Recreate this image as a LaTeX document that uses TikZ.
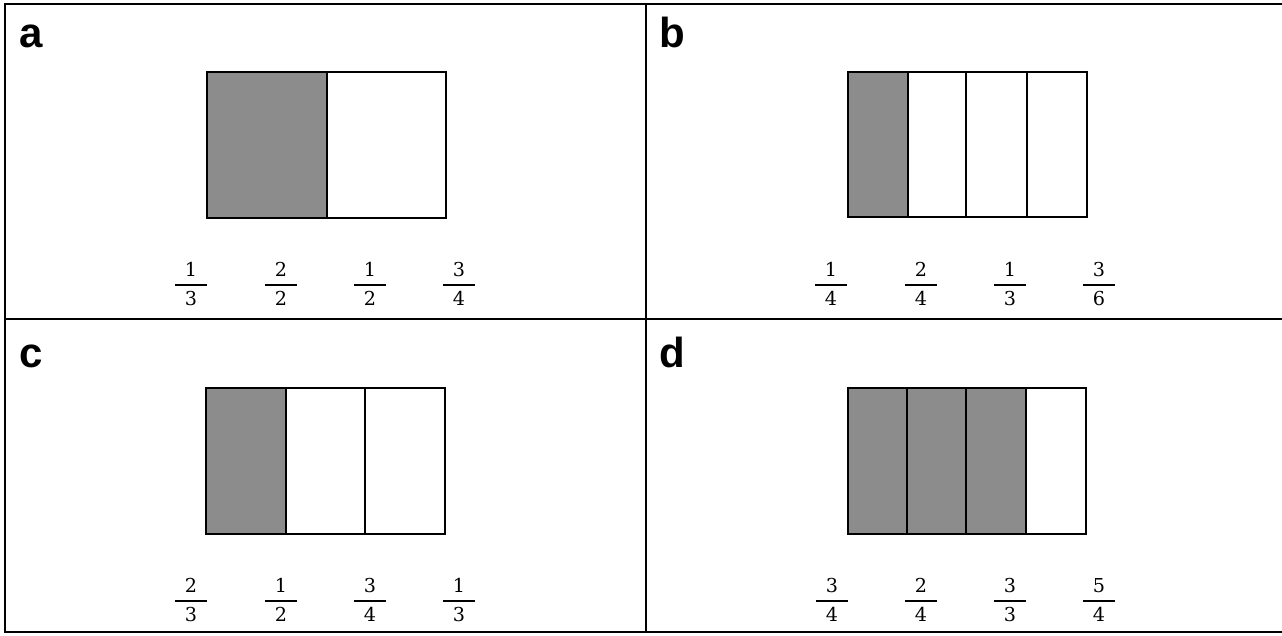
\documentclass[tikz,border=0pt]{standalone}
\usepackage{fontspec}
\usepackage{graphicx}
\newfontfamily\lblfont{Liberation Sans}
\newfontfamily\digfont{DejaVu Serif}
\begin{document}
\begin{tikzpicture}[x=1pt,y=-1pt,
  frame/.style={line width=2.2pt,black},
  box/.style={line width=2pt,black},
  shade/.style={fill=black!45},
  lbl/.style={anchor=base west,inner sep=0pt,font=\lblfont\bfseries\fontsize{42}{46}\selectfont},
  frac/.style={inner sep=0pt}]
\useasboundingbox (0,0) rectangle (1282,635);
\newcommand{\fr}[2]{\scalebox{2}{$\displaystyle{\makebox[16pt]{\digfont\fontsize{9.6}{11}\selectfont #1}\above 0.9pt \hbox{\digfont\fontsize{9.6}{11}\selectfont #2}}$}}
% frame
\coordinate (tl) at (5,4); \coordinate (tr) at (1282,4);
\coordinate (bl) at (5,632); \coordinate (br) at (1282,632);
\coordinate (mt) at (646,4); \coordinate (mb) at (646,632);
\coordinate (ml) at (5,319); \coordinate (mr) at (1282,319);
\draw[frame] (tr) -- (tl) -- (bl) -- (br);
\draw[frame] (mt) -- (mb);
\draw[frame] (ml) -- (mr);
% labels
\node[lbl] (la) at (19,47) {a};
\node[lbl] (lb) at (659,47) {b};
\node[lbl] (lc) at (19,367) {c};
\node[lbl] (ld) at (659,367) {d};
% panel a
\fill[shade] (207,72) rectangle (327,218);
\draw[box] (207,72) rectangle (446,218);
\draw[box] (327,72) -- (327,218);
\node[frac] (a1) at (191,284) {\fr{1}{3}};
\node[frac] (a2) at (281,284) {\fr{2}{2}};
\node[frac] (a3) at (370,284) {\fr{1}{2}};
\node[frac] (a4) at (459,284) {\fr{3}{4}};
% panel b
\fill[shade] (848,72) rectangle (908,217);
\draw[box] (848,72) rectangle (1087,217);
\draw[box] (908,72) -- (908,217);
\draw[box] (966,72) -- (966,217);
\draw[box] (1027,72) -- (1027,217);
\node[frac] (b1) at (831,284) {\fr{1}{4}};
\node[frac] (b2) at (921,284) {\fr{2}{4}};
\node[frac] (b3) at (1010,284) {\fr{1}{3}};
\node[frac] (b4) at (1099,284) {\fr{3}{6}};
% panel c
\fill[shade] (206,388) rectangle (286,534);
\draw[box] (206,388) rectangle (445,534);
\draw[box] (286,388) -- (286,534);
\draw[box] (365,388) -- (365,534);
\node[frac] (c1) at (191,600) {\fr{2}{3}};
\node[frac] (c2) at (281,600) {\fr{1}{2}};
\node[frac] (c3) at (370,600) {\fr{3}{4}};
\node[frac] (c4) at (459,600) {\fr{1}{3}};
% panel d
\fill[shade] (848,388) rectangle (1026,534);
\draw[box] (848,388) rectangle (1086,534);
\draw[box] (907,388) -- (907,534);
\draw[box] (966,388) -- (966,534);
\draw[box] (1026,388) -- (1026,534);
\node[frac] (d1) at (832,600) {\fr{3}{4}};
\node[frac] (d2) at (921,600) {\fr{2}{4}};
\node[frac] (d3) at (1010,600) {\fr{3}{3}};
\node[frac] (d4) at (1099,600) {\fr{5}{4}};
\end{tikzpicture}
\end{document}
